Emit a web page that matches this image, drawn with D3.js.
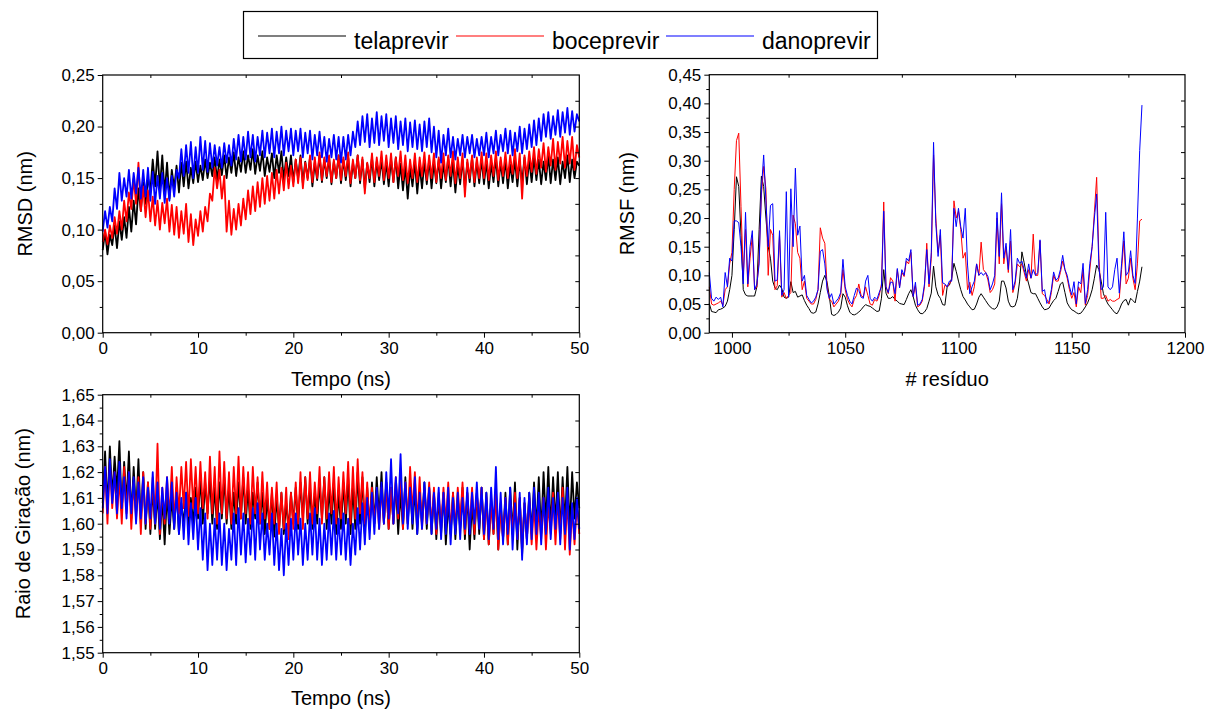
<!DOCTYPE html>
<html>
<head>
<meta charset="utf-8">
<script src="https://cdn.jsdelivr.net/npm/d3@7"></script>
<style>
body { margin: 0; background: #fff; }
text { font-family: "Liberation Sans", Arial, sans-serif; }
</style>
</head>
<body>
<div id="canvas"></div>
<script>
// ----------------------------------------------------------
// DATA -----------------------------------------------------
// ----------------------------------------------------------
var seriesNames = ["telaprevir", "boceprevir", "danoprevir"];
var seriesColors = ["#000000", "#ff0000", "#0000ff"];

// RMSD (nm), 0 -> 50 ns, every 0.25 ns
var rmsdTela = [
.080,.098,.076,.095,.085,.104,.082,.108,.090,.112,.092,.122,.098,.128,.105,.140,.118,.146,.125,.150,
.138,.168,.142,.176,.140,.172,.135,.165,.130,.158,.140,.162,.136,.165,.142,.166,.140,.160,.145,.166,
.146,.162,.148,.168,.150,.165,.152,.170,.148,.168,.153,.172,.150,.170,.155,.175,.152,.170,.156,.176,
.155,.172,.158,.178,.154,.172,.157,.176,.152,.170,.156,.174,.150,.172,.155,.176,.148,.170,.152,.172,
.146,.168,.150,.172,.145,.166,.150,.170,.142,.165,.148,.172,.146,.168,.150,.170,.144,.166,.150,.172,
.145,.168,.148,.170,.142,.165,.150,.172,.145,.168,.140,.164,.146,.170,.142,.166,.148,.168,.144,.165,
.142,.168,.146,.170,.140,.164,.138,.162,.130,.160,.142,.166,.135,.162,.140,.166,.144,.168,.140,.165,
.145,.168,.140,.164,.146,.170,.142,.166,.136,.162,.144,.168,.140,.165,.146,.170,.142,.166,.145,.168,
.144,.166,.140,.164,.146,.170,.142,.166,.145,.168,.140,.163,.146,.168,.142,.166,.146,.170,.144,.168,
.146,.170,.148,.168,.144,.166,.148,.172,.145,.168,.148,.170,.144,.166,.150,.172,.146,.168,.150,.166,
.162];
var rmsdBoce = [
.088,.100,.086,.104,.092,.112,.096,.118,.100,.128,.108,.136,.120,.150,.125,.165,.118,.142,.112,.138,
.108,.132,.104,.128,.100,.126,.106,.130,.098,.124,.095,.122,.092,.118,.096,.125,.088,.115,.085,.110,
.094,.118,.098,.122,.108,.135,.128,.160,.140,.158,.130,.152,.098,.128,.095,.120,.100,.125,.104,.130,
.110,.138,.115,.142,.118,.146,.122,.150,.125,.152,.128,.155,.130,.158,.135,.160,.138,.165,.140,.162,
.142,.168,.145,.170,.140,.165,.148,.172,.146,.170,.150,.175,.148,.170,.152,.172,.146,.168,.150,.172,
.148,.170,.152,.175,.145,.168,.150,.172,.148,.170,.135,.165,.150,.174,.146,.170,.152,.176,.148,.172,
.150,.174,.146,.170,.152,.176,.148,.172,.145,.168,.150,.174,.146,.170,.152,.175,.148,.172,.150,.174,
.146,.170,.150,.174,.148,.172,.152,.176,.145,.170,.150,.174,.132,.168,.150,.172,.146,.170,.150,.175,
.150,.174,.148,.172,.152,.176,.148,.170,.152,.175,.150,.172,.154,.178,.150,.174,.130,.172,.152,.176,
.156,.180,.154,.178,.160,.184,.156,.180,.162,.188,.158,.185,.164,.190,.160,.186,.164,.190,.158,.182,
.170];
var rmsdDano = [
.098,.118,.102,.122,.108,.140,.120,.155,.128,.150,.132,.158,.130,.155,.135,.160,.130,.158,.132,.160,
.128,.156,.125,.152,.130,.155,.126,.150,.128,.152,.132,.158,.150,.178,.152,.182,.155,.185,.150,.180,
.155,.190,.158,.186,.156,.184,.160,.182,.162,.180,.160,.184,.165,.182,.162,.188,.168,.192,.166,.190,
.168,.195,.170,.192,.166,.190,.172,.196,.170,.194,.174,.198,.170,.195,.174,.200,.172,.196,.176,.198,
.172,.196,.176,.198,.170,.194,.174,.196,.168,.192,.172,.195,.170,.190,.166,.188,.170,.192,.168,.190,
.165,.190,.168,.192,.172,.195,.180,.205,.182,.210,.185,.212,.180,.208,.184,.214,.182,.210,.186,.212,
.180,.208,.184,.210,.178,.205,.182,.208,.176,.204,.180,.206,.178,.202,.176,.205,.180,.208,.175,.200,
.170,.196,.165,.192,.172,.198,.170,.190,.168,.188,.172,.192,.170,.190,.174,.192,.170,.188,.172,.190,
.172,.194,.170,.190,.174,.196,.172,.192,.176,.198,.174,.196,.172,.194,.176,.200,.174,.198,.178,.202,
.180,.206,.182,.208,.186,.212,.190,.214,.188,.210,.192,.216,.190,.214,.194,.218,.192,.215,.195,.212,
.205];

// radius of gyration (nm), 0 -> 50 ns, every 0.25 ns
var rgTela = [
1.608,1.628,1.606,1.630,1.610,1.626,1.612,1.632,1.605,1.624,1.608,1.628,1.602,1.622,1.604,1.625,1.600,1.620,1.598,1.616,
1.596,1.614,1.598,1.612,1.594,1.610,1.592,1.612,1.596,1.610,1.598,1.614,1.596,1.608,1.600,1.612,1.598,1.610,1.600,1.614,
1.602,1.618,1.600,1.616,1.604,1.618,1.600,1.614,1.598,1.616,1.602,1.618,1.600,1.614,1.598,1.612,1.600,1.616,1.602,1.618,
1.600,1.614,1.598,1.612,1.602,1.616,1.600,1.612,1.596,1.610,1.598,1.612,1.595,1.610,1.598,1.612,1.596,1.608,1.598,1.612,
1.600,1.614,1.598,1.616,1.602,1.618,1.600,1.614,1.598,1.612,1.600,1.616,1.602,1.618,1.598,1.614,1.600,1.616,1.596,1.612,
1.598,1.616,1.600,1.618,1.596,1.614,1.598,1.620,1.600,1.618,1.596,1.614,1.598,1.616,1.600,1.618,1.602,1.620,1.600,1.616,
1.598,1.614,1.600,1.616,1.596,1.612,1.598,1.618,1.600,1.616,1.598,1.614,1.596,1.612,1.600,1.616,1.598,1.614,1.596,1.612,
1.594,1.610,1.596,1.612,1.592,1.608,1.596,1.612,1.594,1.610,1.598,1.614,1.594,1.612,1.590,1.608,1.594,1.612,1.596,1.614,
1.594,1.612,1.592,1.610,1.596,1.614,1.590,1.608,1.594,1.612,1.592,1.614,1.596,1.616,1.590,1.610,1.588,1.608,1.594,1.612,
1.596,1.616,1.598,1.618,1.596,1.620,1.600,1.622,1.598,1.618,1.600,1.620,1.596,1.618,1.600,1.622,1.598,1.620,1.602,1.616,
1.606];
var rgBoce = [
1.604,1.622,1.600,1.624,1.606,1.620,1.602,1.618,1.600,1.622,1.604,1.620,1.598,1.616,1.602,1.618,1.596,1.620,1.600,1.616,
1.598,1.618,1.600,1.631,1.596,1.614,1.600,1.618,1.602,1.622,1.600,1.618,1.604,1.622,1.606,1.624,1.603,1.625,1.606,1.622,
1.604,1.624,1.606,1.620,1.602,1.626,1.604,1.622,1.600,1.628,1.604,1.624,1.602,1.620,1.600,1.622,1.604,1.626,1.602,1.622,
1.604,1.620,1.600,1.622,1.604,1.618,1.600,1.620,1.602,1.616,1.598,1.614,1.600,1.616,1.596,1.612,1.598,1.614,1.594,1.612,
1.598,1.616,1.600,1.620,1.598,1.618,1.602,1.620,1.600,1.616,1.604,1.622,1.600,1.618,1.602,1.620,1.604,1.622,1.600,1.618,
1.602,1.620,1.604,1.624,1.600,1.622,1.602,1.625,1.604,1.620,1.600,1.616,1.598,1.614,1.600,1.612,1.598,1.614,1.600,1.616,
1.598,1.614,1.600,1.618,1.602,1.620,1.598,1.616,1.600,1.622,1.604,1.620,1.600,1.618,1.598,1.614,1.600,1.616,1.598,1.614,
1.596,1.612,1.598,1.614,1.600,1.616,1.596,1.612,1.598,1.614,1.600,1.616,1.596,1.612,1.598,1.614,1.596,1.612,1.600,1.614,
1.594,1.610,1.592,1.608,1.596,1.612,1.590,1.606,1.594,1.610,1.592,1.608,1.596,1.612,1.594,1.610,1.590,1.608,1.594,1.610,
1.592,1.608,1.590,1.606,1.594,1.610,1.590,1.608,1.596,1.612,1.592,1.610,1.594,1.614,1.590,1.610,1.588,1.606,1.592,1.608,
1.596];
var rgDano = [
1.606,1.622,1.604,1.625,1.608,1.620,1.604,1.624,1.606,1.618,1.602,1.620,1.604,1.618,1.600,1.616,1.602,1.618,1.600,1.614,
1.602,1.620,1.600,1.616,1.598,1.614,1.602,1.618,1.600,1.616,1.598,1.612,1.596,1.610,1.594,1.612,1.592,1.608,1.594,1.610,
1.590,1.606,1.586,1.604,1.582,1.600,1.584,1.602,1.586,1.604,1.584,1.600,1.582,1.598,1.586,1.604,1.584,1.606,1.588,1.604,
1.585,1.602,1.588,1.606,1.586,1.608,1.590,1.604,1.586,1.600,1.588,1.604,1.584,1.600,1.582,1.598,1.580,1.600,1.584,1.602,
1.586,1.604,1.588,1.602,1.584,1.600,1.586,1.604,1.588,1.606,1.586,1.602,1.584,1.600,1.586,1.604,1.588,1.605,1.586,1.602,
1.588,1.604,1.586,1.602,1.584,1.600,1.588,1.606,1.590,1.608,1.592,1.610,1.594,1.612,1.596,1.614,1.598,1.616,1.600,1.620,
1.602,1.625,1.600,1.618,1.604,1.627,1.600,1.616,1.598,1.614,1.600,1.618,1.596,1.612,1.598,1.616,1.600,1.614,1.596,1.612,
1.598,1.614,1.594,1.612,1.596,1.614,1.592,1.610,1.596,1.612,1.594,1.610,1.598,1.614,1.596,1.612,1.600,1.616,1.598,1.614,
1.596,1.612,1.594,1.614,1.598,1.622,1.594,1.612,1.592,1.610,1.596,1.614,1.590,1.608,1.594,1.612,1.586,1.610,1.592,1.612,
1.594,1.614,1.596,1.612,1.592,1.610,1.596,1.614,1.594,1.610,1.598,1.612,1.592,1.610,1.596,1.614,1.590,1.608,1.594,1.610,
1.598];

// RMSF (nm), residues 990 -> 1181
var rmsfFirstResidue = 990;
var rmsfTela = [
.051,.037,.036,.035,.040,.041,.043,.046,.055,.075,
.100,.180,.272,.255,.170,.075,.066,.064,.064,.064,
.064,.080,.180,.273,.255,.200,.150,.130,.090,.078,
.075,.083,.077,.062,.060,.062,.089,.070,.072,.062,
.064,.066,.056,.048,.042,.035,.034,.036,.050,.070,
.090,.100,.088,.063,.032,.030,.032,.036,.043,.068,
.062,.047,.036,.032,.031,.033,.036,.040,.045,.049,
.047,.046,.043,.040,.037,.038,.060,.110,.069,.060,
.060,.063,.058,.055,.051,.050,.049,.058,.068,.075,
.063,.048,.040,.034,.033,.036,.042,.055,.069,.116,
.080,.066,.060,.049,
.048,.080,.083,.095,.121,.107,.090,.075,.063,.057,
.050,.045,.040,.041,.050,.062,.068,.062,.056,.050,
.045,.042,.041,.045,.055,.090,.090,.078,.055,.046,
.045,.047,.060,.090,.141,.122,.100,.085,.070,.068,
.068,.060,.052,.045,.040,.041,.043,.050,.056,.060,
.072,.085,.088,.070,.052,.045,.040,.038,.035,.033,
.034,.039,.045,.052,.062,.075,.095,.118,.110,.090,
.068,.058,.050,.045,.040,.035,.033,.040,.050,.056,
.058,.048,.060,.056,.052,.072,.090,.115];
var rmsfBoce = [
.080,.050,.048,.050,.052,.055,.048,.075,.080,.120,
.140,.250,.335,.348,.220,.100,.180,.080,.130,.170,
.075,.080,.130,.240,.290,.250,.100,.180,.170,.075,
.082,.170,.062,.070,.060,.065,.070,.205,.190,.140,
.130,.075,.090,.060,.055,.050,.050,.058,.075,.183,
.165,.156,.080,.058,.055,.045,.050,.055,.065,.110,
.075,.058,.050,.045,.058,.065,.085,.065,.062,.080,
.065,.050,.048,.058,.055,.065,.085,.228,.080,.068,
.096,.090,.055,.110,.080,.105,.098,.125,.120,.140,
.063,.082,.045,.048,.055,.080,.156,.080,.130,.310,
.200,.140,.170,.065,
.083,.080,.085,.092,.230,.200,.212,.180,.130,.140,
.075,.088,.065,.080,.120,.100,.158,.110,.105,.092,
.070,.075,.085,.200,.120,.225,.120,.150,.105,.160,
.070,.085,.120,.115,.120,.105,.090,.110,.095,.172,
.100,.100,.160,.068,.065,.058,.050,.070,.100,.090,
.090,.105,.125,.110,.095,.075,.060,.070,.045,.080,
.070,.110,.048,.065,.110,.150,.210,.271,.130,.060,
.060,.065,.055,.058,.055,.055,.058,.060,.110,.160,
.085,.095,.130,.095,.075,.120,.195,.198];
var rmsfDano = [
.105,.060,.055,.062,.058,.062,.045,.105,.080,.130,
.125,.195,.195,.192,.150,.085,.210,.085,.150,.178,
.075,.085,.120,.250,.310,.230,.150,.222,.225,.090,
.092,.178,.065,.075,.246,.062,.251,.150,.287,.170,
.186,.090,.100,.065,.058,.052,.055,.062,.075,.142,
.145,.120,.075,.060,.068,.050,.055,.060,.070,.128,
.080,.065,.055,.050,.065,.078,.074,.062,.060,.090,
.100,.060,.055,.062,.058,.070,.080,.212,.080,.070,
.088,.088,.068,.112,.078,.110,.100,.130,.125,.145,
.063,.088,.048,.050,.058,.085,.145,.085,.140,.332,
.190,.133,.180,.087,
.085,.080,.090,.090,.217,.185,.217,.185,.165,.217,
.118,.068,.080,.090,.120,.100,.105,.100,.105,.098,
.075,.085,.100,.210,.133,.244,.130,.156,.110,.180,
.075,.090,.130,.121,.125,.110,.095,.120,.095,.110,
.100,.105,.162,.072,.075,.051,.055,.075,.106,.092,
.095,.110,.135,.110,.100,.080,.066,.089,.050,.089,
.085,.121,.051,.075,.121,.150,.200,.242,.115,.075,
.080,.210,.080,.075,.080,.110,.130,.069,.120,.176,
.100,.106,.143,.100,.086,.200,.318,.397];

// tick values
var timeTicks = [0, 10, 20, 30, 40, 50];
var timeMinor = [5, 15, 25, 35, 45];
var rmsdTicks = [0, 0.05, 0.10, 0.15, 0.20, 0.25];
var rmsdMinor = [0.025, 0.075, 0.125, 0.175, 0.225];
var rgTicks = [1.55, 1.56, 1.57, 1.58, 1.59, 1.60, 1.61, 1.62, 1.63, 1.64, 1.65];
var rgMinor = [1.555, 1.565, 1.575, 1.585, 1.595, 1.605, 1.615, 1.625, 1.635, 1.645];
var residueTicks = [1000, 1050, 1100, 1150, 1200];
var residueMinor = [1025, 1075, 1125, 1175];
var rmsfTicks = [0, 0.05, 0.10, 0.15, 0.20, 0.25, 0.30, 0.35, 0.40, 0.45];
var rmsfMinor = [0.025, 0.075, 0.125, 0.175, 0.225, 0.275, 0.325, 0.375, 0.425];


// ----------------------------------------------------------
// STRUCTURE ------------------------------------------------
// ----------------------------------------------------------
var svg = d3.select("#canvas").append("svg")
.attr("width", 1208)
.attr("height", 711)
.style("background-color", "#fff");

var fontTick = 17;
var fontTitle = 20;
var commaFmt = (v) => d3.format(".2f")(v).replace(".", ",");

// time series -> points with evenly spaced time
var asTime = (vals) => vals.map((v, i) => [i * 50 / (vals.length - 1), v]);
var asResidue = (vals) => vals.map((v, i) => [rmsfFirstResidue + i, v]);


// ----------------------------------------------------------
// PANELS ---------------------------------------------------
// ----------------------------------------------------------
function drawPanel(p) {
var w = p.right - p.left;
var h = p.bottom - p.top;
var g = svg.append("g")
.attr("transform", `translate(${p.left}, ${p.top})`);

var x = d3.scaleLinear().domain(p.xDomain).range([0, w]);
var y = d3.scaleLinear().domain(p.yDomain).range([h, 0]);
var yRight = d3.scaleLinear().domain([0, 10]).range([h, 0]);

var line = d3.line()
.x((d) => x(d[0]))
.y((d) => y(d[1]));

// data lines
p.series.forEach((s, i) => {
g.append("path")
.datum(s)
.attr("fill", "none")
.attr("stroke", seriesColors[i])
.attr("stroke-width", p.lineWidth)
.attr("stroke-linejoin", "round")
.attr("d", line);
});

// frame
g.append("rect")
.attr("width", w)
.attr("height", h)
.attr("fill", "none")
.attr("stroke", "#000")
.attr("stroke-width", 1.2);

// left
g.append("g")
.call(d3.axisLeft(y).tickValues(p.yTicks).tickSize(5).tickPadding(3).tickFormat(p.yFormat));
g.append("g")
.call(d3.axisLeft(y).tickValues(p.yMinor).tickSize(3).tickFormat(""));
// bottom
g.append("g")
.attr("transform", `translate(0, ${h})`)
.call(d3.axisBottom(x).tickValues(p.xTicks).tickSize(5).tickPadding(4).tickFormat(d3.format("d")));
g.append("g")
.attr("transform", `translate(0, ${h})`)
.call(d3.axisBottom(x).tickValues(p.xMinor).tickSize(3).tickFormat(""));
// top (inward)
g.append("g")
.call(d3.axisTop(x).tickValues(p.xMinor).tickSize(-3).tickFormat(""));
// right (inward)
g.append("g")
.attr("transform", `translate(${w}, 0)`)
.call(d3.axisRight(yRight).tickValues(d3.range(1, 10)).tickSize(-4).tickFormat(""));

g.selectAll(".domain").remove();
g.selectAll(".tick line").attr("stroke", "#000");
g.selectAll(".tick text")
.attr("fill", "#000")
.attr("font-size", fontTick)
.attr("font-family", "'Liberation Sans', Arial, sans-serif");

// titles
g.append("text")
.attr("x", w / 2)
.attr("y", h + p.xTitleDy)
.attr("text-anchor", "middle")
.attr("font-size", fontTitle)
.text(p.xTitle);
g.append("text")
.attr("transform", `translate(${p.yTitleDx}, ${h / 2}) rotate(-90)`)
.attr("text-anchor", "middle")
.attr("font-size", fontTitle)
.text(p.yTitle);
}

// RMSD
drawPanel({
left: 102.7, right: 579.3, top: 75, bottom: 332.7,
xDomain: [0, 50], yDomain: [0, 0.25],
xTicks: timeTicks, xMinor: timeMinor,
yTicks: rmsdTicks, yMinor: rmsdMinor, yFormat: commaFmt,
series: [asTime(rmsdTela), asTime(rmsdBoce), asTime(rmsdDano)],
lineWidth: 1.8,
xTitle: "Tempo (ns)", xTitleDy: 53,
yTitle: "RMSD (nm)", yTitleDx: -71
});

// RMSF
drawPanel({
left: 709.3, right: 1185, top: 74.7, bottom: 332.7,
xDomain: [990, 1200], yDomain: [0, 0.45],
xTicks: residueTicks, xMinor: residueMinor,
yTicks: rmsfTicks, yMinor: rmsfMinor, yFormat: commaFmt,
series: [asResidue(rmsfTela), asResidue(rmsfBoce), asResidue(rmsfDano)],
lineWidth: 1,
xTitle: "# resíduo", xTitleDy: 53,
yTitle: "RMSF (nm)", yTitleDx: -75
});

// Rg
drawPanel({
left: 102.7, right: 579.3, top: 394.7, bottom: 652.7,
xDomain: [0, 50], yDomain: [1.55, 1.65],
xTicks: timeTicks, xMinor: timeMinor,
yTicks: rgTicks, yMinor: rgMinor, yFormat: commaFmt,
series: [asTime(rgTela), asTime(rgBoce), asTime(rgDano)],
lineWidth: 1.8,
xTitle: "Tempo (ns)", xTitleDy: 52,
yTitle: "Raio de Giração (nm)", yTitleDx: -73
});


// ----------------------------------------------------------
// LEGEND ---------------------------------------------------
// ----------------------------------------------------------
var legend = svg.append("g").attr("class", "legend");
legend.append("rect")
.attr("x", 243.5).attr("y", 11.5)
.attr("width", 634).attr("height", 47)
.attr("fill", "#fff")
.attr("stroke", "#000")
.attr("stroke-width", 1.2);

var legendLineX = [258, 456, 666];
var legendItems = legend.selectAll(".item")
.data(seriesNames)
.enter()
.append("g")
.attr("class", "item")
.attr("transform", (d, i) => `translate(${legendLineX[i]}, 0)`);
legendItems.append("line")
.attr("x1", 0).attr("x2", 88)
.attr("y1", 36).attr("y2", 36)
.attr("stroke", (d, i) => seriesColors[i])
.attr("stroke-width", 1.2);
legendItems.append("text")
.attr("x", 96)
.attr("y", 49)
.attr("font-size", 23)
.text((d) => d);
</script>
</body>
</html>
